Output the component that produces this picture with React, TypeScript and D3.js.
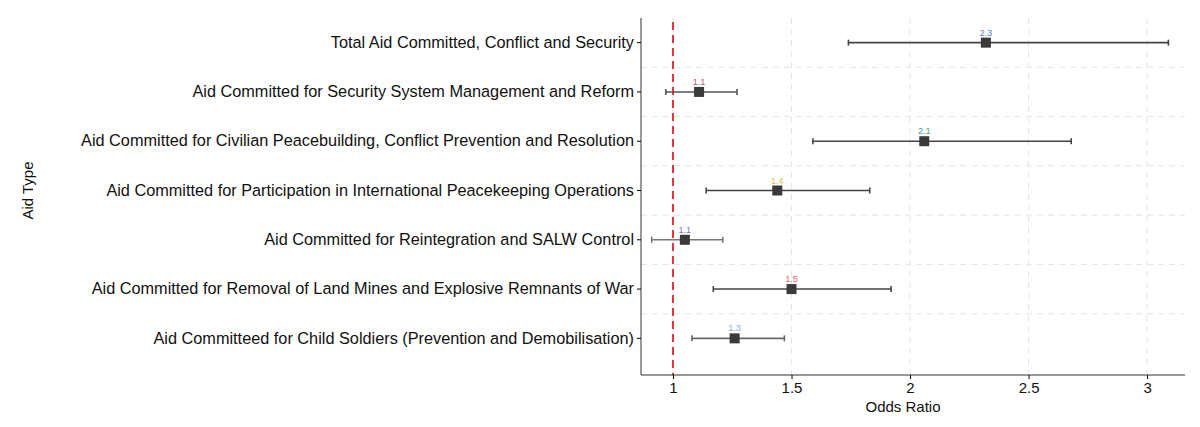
import React, { useRef, useEffect } from 'react';
import * as d3 from 'd3';

const categories = [
  'Total Aid Committed, Conflict and Security',
  'Aid Committed for Security System Management and Reform',
  'Aid Committed for Civilian Peacebuilding, Conflict Prevention and Resolution',
  'Aid Committed for Participation in International Peacekeeping Operations',
  'Aid Committed for Reintegration and SALW Control',
  'Aid Committed for Removal of Land Mines and Explosive Remnants of War',
  'Aid Committeed for Child Soldiers (Prevention and Demobilisation)',
];
const estimates = [2.32, 1.11, 2.06, 1.44, 1.05, 1.5, 1.26];
const lower = [1.74, 0.97, 1.59, 1.14, 0.91, 1.17, 1.08];
const upper = [3.09, 1.27, 2.68, 1.83, 1.21, 1.92, 1.47];
const labels = ['2.3', '1.1', '2.1', '1.4', '1.1', '1.5', '1.3'];
const labelColors = ['#5b7fd6', '#b0557a', '#3daa84', '#e0c040', '#7a7a9a', '#e06070', '#7fb0e0'];
const barColors = ['#444', '#555', '#444', '#444', '#777', '#444', '#666'];
const xTicks = [1, 1.5, 2, 2.5, 3];

const App: React.FC = () => {
  const svgRef = useRef<SVGSVGElement | null>(null);

  useEffect(() => {
    const svg = d3.select(svgRef.current);
    svg.selectAll('*').remove();
    const width = 1200;
    const height = 427;
    const left = 641;
    const right = 1185;
    const top = 18;
    const bottom = 375;
    const font = 'Liberation Sans, Arial, sans-serif';

    const x = d3.scaleLinear().domain([0.865, 3.16]).range([left, right]);
    const y = d3.scaleBand().domain(categories).range([top, 363]);
    const yc = (c: string) => (y(c) || 0) + y.bandwidth() / 2;

    svg.attr('width', width).attr('height', height).style('font-family', font);

    // grid
    svg.append('g').selectAll('line').data(xTicks).enter().append('line')
      .attr('x1', (d) => x(d)).attr('x2', (d) => x(d))
      .attr('y1', top).attr('y2', bottom)
      .attr('stroke', '#e4e4e4').attr('stroke-dasharray', '6,5');
    svg.append('g').selectAll('line').data(categories.slice(1)).enter().append('line')
      .attr('x1', left).attr('x2', right)
      .attr('y1', (d) => y(d) || 0).attr('y2', (d) => y(d) || 0)
      .attr('stroke', '#e4e4e4').attr('stroke-dasharray', '6,5');

    // reference line
    svg.append('line')
      .attr('x1', x(1)).attr('x2', x(1)).attr('y1', top + 4).attr('y2', bottom)
      .attr('stroke', '#e8343c').attr('stroke-width', 2).attr('stroke-dasharray', '8,5');

    // axes
    const xa = svg.append('g').attr('transform', `translate(0,${bottom})`)
      .call(d3.axisBottom(x).tickValues(xTicks).tickFormat((d) => String(d)).tickSize(4));
    xa.select('.domain').attr('stroke', '#333').attr('d', `M${left},0H${right}`);
    xa.selectAll('text').attr('font-size', 15).attr('fill', '#111').attr('font-family', font);
    const ya = svg.append('g').attr('transform', `translate(${left},0)`)
      .call(d3.axisLeft(y).tickSize(4));
    ya.select('.domain').attr('stroke', '#333').attr('d', `M-0,${top}V${bottom}`);
    ya.selectAll('text').attr('font-size', 16.3).attr('fill', '#111').attr('font-family', font);

    // error bars
    const g = svg.append('g');
    categories.forEach((c, i) => {
      const cy = yc(c);
      const col = barColors[i];
      g.append('line').attr('x1', x(lower[i])).attr('x2', x(upper[i])).attr('y1', cy).attr('y2', cy)
        .attr('stroke', col).attr('stroke-width', 1.6);
      [lower[i], upper[i]].forEach((v) => {
        g.append('line').attr('x1', x(v)).attr('x2', x(v)).attr('y1', cy - 3).attr('y2', cy + 3)
          .attr('stroke', col).attr('stroke-width', 1.6);
      });
      g.append('rect').attr('x', x(estimates[i]) - 5).attr('y', cy - 5).attr('width', 10).attr('height', 10)
        .attr('fill', '#3a3a3a');
      g.append('text').attr('x', x(estimates[i])).attr('y', cy - 7).attr('text-anchor', 'middle')
        .attr('font-size', 9).attr('fill', labelColors[i]).text(labels[i]);
    });

    svg.append('text').attr('x', (left + right) / 2 - 10).attr('y', 412).attr('text-anchor', 'middle')
      .attr('font-size', 15).attr('fill', '#111').text('Odds Ratio');
    svg.append('text').attr('transform', `translate(33,${(top + 363) / 2}) rotate(-90)`)
      .attr('text-anchor', 'middle').attr('font-size', 15).attr('fill', '#111').text('Aid Type');
  }, []);

  return <svg ref={svgRef} style={{ position: 'absolute', left: 0, top: 0 }}></svg>;
};

export default App;
